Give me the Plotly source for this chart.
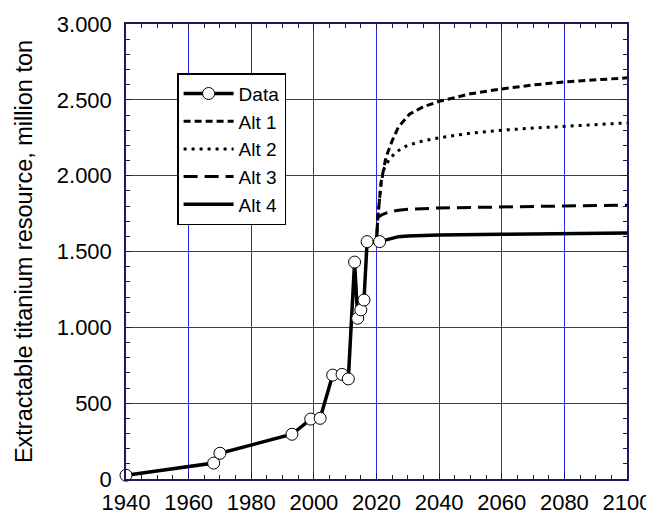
import plotly.graph_objects as go

data_years = [1940, 1968, 1970, 1993, 1999, 2002, 2006, 2009, 2011, 2013, 2014, 2015, 2016, 2017, 2021]
data_vals = [25, 105, 170, 295, 395, 400, 685, 690, 660, 1430, 1060, 1115, 1180, 1565, 1565]

alt1_years = [2020, 2020.4, 2021.5, 2023, 2025, 2027, 2030.5, 2035, 2040, 2050, 2060, 2070, 2080, 2090, 2100]
alt1_vals = [1565, 1720, 1960, 2120, 2230, 2320, 2405, 2455, 2490, 2540, 2572, 2598, 2618, 2633, 2645]

alt2_years = [2020, 2020.4, 2021.5, 2022.5, 2024, 2026, 2028, 2030, 2035, 2040, 2050, 2060, 2072, 2085, 2100]
alt2_vals = [1565, 1720, 1960, 2050, 2105, 2150, 2180, 2200, 2230, 2250, 2280, 2300, 2316, 2332, 2348]

alt3_years = [2020, 2020.4, 2022, 2024, 2027, 2030, 2040, 2060, 2080, 2100]
alt3_vals = [1565, 1725, 1745, 1760, 1772, 1778, 1787, 1795, 1800, 1805]

alt4_years = [2021, 2023, 2025, 2027, 2030, 2040, 2060, 2080, 2100]
alt4_vals = [1565, 1578, 1590, 1598, 1602, 1608, 1613, 1618, 1622]

y_ticks = [0, 500, 1000, 1500, 2000, 2500, 3000]
y_labels = ["0", "500", "1.000", "1.500", "2.000", "2.500", "3.000"]
x_ticks = [1940, 1960, 1980, 2000, 2020, 2040, 2060, 2080, 2100]

fig = go.Figure()
fig.add_trace(go.Scatter(x=alt1_years, y=alt1_vals, name="Alt 1", mode="lines", legendrank=2,
                         line=dict(color="black", width=3, dash="7px,4px")))
fig.add_trace(go.Scatter(x=alt2_years, y=alt2_vals, name="Alt 2", mode="lines", legendrank=3,
                         line=dict(color="black", width=3, dash="3px,5px")))
fig.add_trace(go.Scatter(x=alt3_years, y=alt3_vals, name="Alt 3", mode="lines", legendrank=4,
                         line=dict(color="black", width=3, dash="14px,7px")))
fig.add_trace(go.Scatter(x=alt4_years, y=alt4_vals, name="Alt 4", mode="lines", legendrank=5,
                         line=dict(color="black", width=3.5)))
fig.add_trace(go.Scatter(x=data_years, y=data_vals, name="Data", mode="lines+markers", legendrank=1,
                         line=dict(color="black", width=3.5),
                         marker=dict(symbol="circle", size=12, color="white",
                                     line=dict(color="black", width=1)),
                         cliponaxis=False))

font = "Liberation Sans, Arial, sans-serif"
axis_col = "#1a1a5a"
grid_col = "#2a2af0"
fig.update_layout(
    width=646, height=508,
    margin=dict(l=118, r=27, t=16, b=37, autoexpand=False),
    paper_bgcolor="white", plot_bgcolor="white",
    font=dict(family=font, size=22, color="black"),
    showlegend=True,
    legend=dict(x=0.102, y=0.892, xanchor="left", yanchor="top",
                bgcolor="white", bordercolor="black", borderwidth=1.5,
                font=dict(size=19), tracegroupgap=0, traceorder="normal",
                itemwidth=50),
)
fig.update_xaxes(range=[1940, 2100], tickvals=x_ticks, showgrid=True,
                 gridcolor=grid_col, gridwidth=1, automargin=False,
                 showline=True, linecolor=axis_col, linewidth=1.5, mirror="ticks",
                 ticks="inside", ticklen=6, tickcolor=axis_col,
                 minor=dict(dtick=5, ticks="inside", ticklen=4, tickcolor=axis_col, showgrid=False),
                 zeroline=False, tickfont=dict(size=22), ticklabelstandoff=3)
fig.update_yaxes(range=[0, 3000], tickvals=y_ticks, ticktext=y_labels, showgrid=True,
                 gridcolor=grid_col, gridwidth=1, automargin=False,
                 showline=True, linecolor=axis_col, linewidth=1.5, mirror="ticks",
                 ticks="inside", ticklen=6, tickcolor=axis_col,
                 minor=dict(dtick=100, ticks="inside", ticklen=4, tickcolor=axis_col, showgrid=False),
                 zeroline=False, tickfont=dict(size=22), ticklabelstandoff=8,
                 title=dict(text="Extractable titanium resource, million ton", font=dict(size=23.5), standoff=18))

fig.write_html("out.html")
